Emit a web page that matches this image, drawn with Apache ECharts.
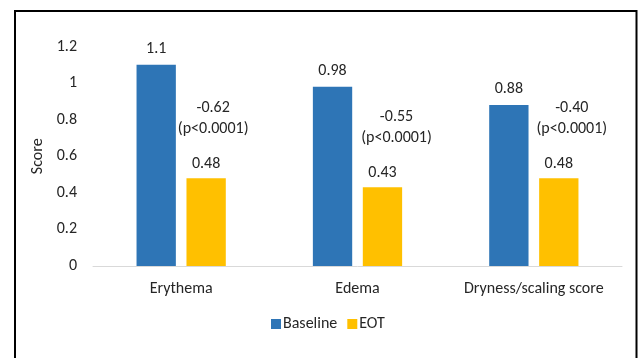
<!DOCTYPE html>
<html>
<head>
<meta charset="utf-8">
<script src="https://cdn.jsdelivr.net/npm/echarts@6/dist/echarts.min.js"></script>
<style>
  html, body { margin: 0; padding: 0; background: #fff; }
  #chart { width: 641px; height: 358px; }
</style>
</head>
<body>
<div id="chart"></div>
<script>
// Mean scores at baseline and end of treatment (EOT)
const categories = ['Erythema', 'Edema', 'Dryness/scaling score'];
const baseline = [1.1, 0.98, 0.88];
const eot = [0.48, 0.43, 0.48];
// Change from baseline and significance
const changes = ['-0.62', '-0.55', '-0.40'];
const pValues = ['(p<0.0001)', '(p<0.0001)', '(p<0.0001)'];
const yTicks = [0, 0.2, 0.4, 0.6, 0.8, 1, 1.2];

const FONT = 'Carlito, Calibri, Lato, sans-serif';
const FS = 16;
const TEXT = '#262626';
// horizontal offset of each change annotation from its category centre
const annOffsetX = [32, 39, 38];

const chart = echarts.init(document.getElementById('chart'), null, { renderer: 'canvas' });

// annotation anchors sit on top of the EOT values; the text floats above them
const annData = eot.map((v, i) => ({
  value: [i, v],
  label: { offset: [annOffsetX[i], 0] }
}));

chart.setOption({
  animation: false,
  backgroundColor: '#fff',
  textStyle: { fontFamily: FONT },
  graphic: [{
    type: 'rect',
    shape: { x: 15, y: 11, width: 621.5, height: 360 },
    style: { fill: 'none', stroke: '#000', lineWidth: 2 },
    silent: true
  }],
  grid: { left: 93, right: 19, top: 46.5, bottom: 92 },
  legend: {
    data: ['Baseline', 'EOT'],
    left: 266,
    top: 311,
    itemWidth: 10,
    itemHeight: 10,
    itemGap: 10,
    icon: 'rect',
    textStyle: { fontFamily: FONT, fontSize: FS, color: TEXT, padding: [0, 0, 0, -3] }
  },
  xAxis: {
    type: 'category',
    data: categories,
    axisLine: { lineStyle: { color: '#D9D9D9', width: 1 } },
    axisTick: { show: false },
    axisLabel: { interval: 0, hideOverlap: false, fontFamily: FONT, fontSize: FS, color: TEXT, margin: 15 }
  },
  yAxis: {
    type: 'value',
    min: yTicks[0],
    max: yTicks[yTicks.length - 1],
    interval: 0.2,
    name: 'Score',
    nameLocation: 'middle',
    nameGap: 42,
    nameTextStyle: { fontFamily: FONT, fontSize: FS, color: TEXT },
    axisLine: { show: false },
    axisTick: { show: false },
    splitLine: { show: false },
    axisLabel: {
      fontFamily: FONT, fontSize: FS, color: TEXT, margin: 16,
      formatter: v => String(Math.round(v * 10) / 10)
    }
  },
  series: [
    {
      name: 'Baseline',
      type: 'bar',
      data: baseline,
      barWidth: '22.3%',
      barGap: '27%',
      itemStyle: { color: '#2E75B6' },
      label: {
        show: true, position: 'top', distance: 8,
        fontFamily: FONT, fontSize: FS, color: TEXT
      }
    },
    {
      name: 'EOT',
      type: 'bar',
      data: eot,
      barWidth: '22.3%',
      itemStyle: { color: '#FFC000' },
      label: {
        show: true, position: 'top', distance: 6,
        fontFamily: FONT, fontSize: FS, color: TEXT
      }
    },
    {
      name: 'Change',
      type: 'scatter',
      data: annData,
      symbolSize: 0,
      silent: true,
      z: 5,
      itemStyle: { opacity: 1 },
      label: {
        show: true,
        position: 'top',
        distance: 39,
        formatter: p => `${changes[p.dataIndex]}\n${pValues[p.dataIndex]}`,
        fontFamily: FONT, fontSize: FS, color: TEXT, lineHeight: 21, align: 'center',
        opacity: 1
      }
    }
  ]
});
</script>
</body>
</html>
